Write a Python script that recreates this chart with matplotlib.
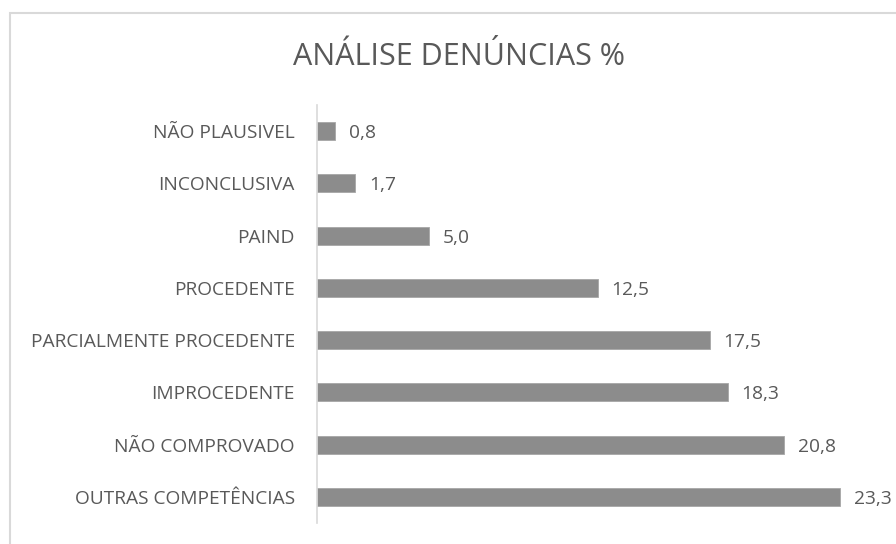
import matplotlib.pyplot as plt
from matplotlib.patches import Rectangle

plt.rcParams["font.family"] = ["Open Sans", "DejaVu Sans"]

categorias = ["OUTRAS COMPETÊNCIAS", "NÃO COMPROVADO", "IMPROCEDENTE",
              "PARCIALMENTE PROCEDENTE", "PROCEDENTE", "PAIND",
              "INCONCLUSIVA", "NÃO PLAUSIVEL"]
valores = [23.3, 20.8, 18.3, 17.5, 12.5, 5.0, 1.7, 0.8]
titulo = "ANÁLISE DENÚNCIAS %"

W, H = 896, 544
fig = plt.figure(figsize=(W / 100, H / 100), dpi=100)

# moldura do gráfico (estilo Excel), cortada à direita e em baixo
fig.patches.append(Rectangle((10 / W, -0.1), 1, 1.1 - 13 / H, transform=fig.transFigure,
                             fill=False, edgecolor="#d9d9d9", linewidth=1.5))

ax = fig.add_axes([317 / W, 1 - 523 / H, 561 / W, (523 - 105) / H])
y = range(len(categorias))
ax.barh(y, valores, height=0.34, color="#8c8c8c", edgecolor="#a6a6a6", linewidth=0.6)
ax.set_xlim(0, 25)
ax.set_ylim(-0.5, len(categorias) - 0.5)

ax.set_yticks(list(y))
ax.set_yticklabels(categorias, fontsize=13.8, color="#595959")
ax.tick_params(axis="y", length=0, pad=16)
ax.set_xticks([])
for s in ["top", "right", "bottom"]:
    ax.spines[s].set_visible(False)
ax.spines["left"].set_color("#d9d9d9")
ax.spines["left"].set_linewidth(1.2)

for i, v in enumerate(valores):
    ax.annotate(f"{v:.1f}".replace(".", ","), (v, i), xytext=(10, -1.5),
                textcoords="offset points", va="center", ha="left",
                fontsize=13.8, color="#595959")

fig.text(459 / W, 1 - 57 / H, titulo, ha="center", va="center",
         fontsize=22, color="#595959")

fig.savefig("out.png", dpi=100)
